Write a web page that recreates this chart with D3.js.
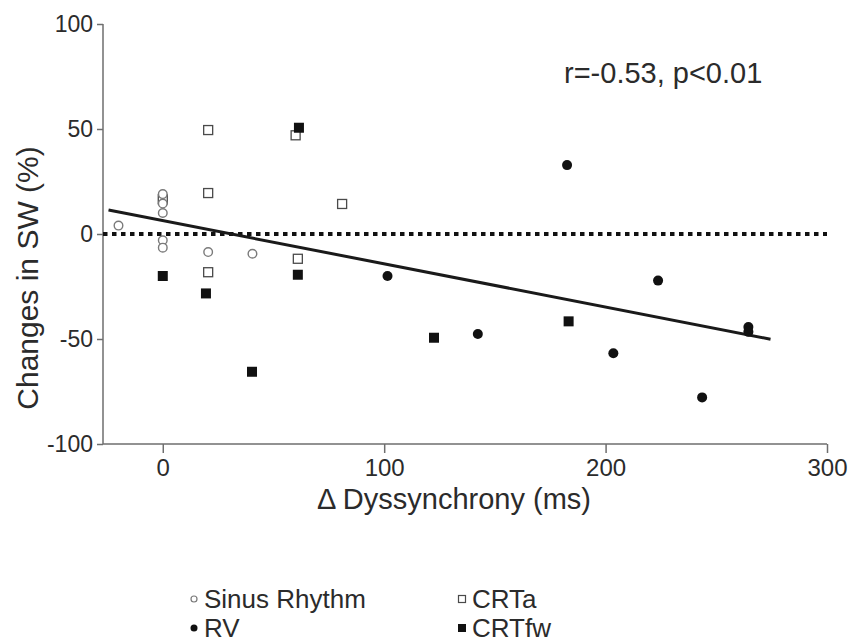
<!DOCTYPE html>
<html>
<head>
<meta charset="utf-8">
<script src="https://cdn.jsdelivr.net/npm/d3@7"></script>
<style>
  html, body { margin: 0; padding: 0; background: #fff; }
  svg { display: block; font-family: "Liberation Sans", Arial, sans-serif; }
</style>
</head>
<body>
<svg id="chart" width="851" height="642"></svg>
<script>
// ---- data ----
const xTicks = [0, 100, 200, 300];
const yTicks = [-100, -50, 0, 50, 100];

const sinusX = [-20, 0, 0, 0, 0, 0, 20.5, 40.5];
const sinusY = [4, 19, 14.5, 10, -3, -6.5, -8.6, -9.4];

const crtaX = [0, 20.5, 20.5, 20.5, 60, 61, 81];
const crtaY = [16.5, 49.5, 19.5, -18.2, 47, -11.8, 14.3];

const rvX = [101.5, 142.3, 182.6, 203.5, 223.7, 243.6, 264.5, 264.5];
const rvY = [-20, -47.6, 32.8, -56.8, -22.2, -77.8, -44.3, -46.6];

const crtfwX = [0, 19.5, 40.3, 61, 61.5, 122.5, 183.3];
const crtfwY = [-20, -28.3, -65.6, -19.4, 50.6, -49.4, -41.6];

const fitX = [-24.5, 274.5];
const fitY = [11.4, -50.1];

const annotation = "r=-0.53, p<0.01";
const xLabel = "\u0394 Dyssynchrony (ms)";
const yLabel = "Changes in SW (%)";
const legendNames = ["Sinus Rhythm", "CRTa", "RV", "CRTfw"];

// ---- drawing ----
const svg = d3.select("#chart");
const x = d3.scaleLinear().domain([-27, 300]).range([103, 827]);
const y = d3.scaleLinear().domain([-100, 100]).range([444, 24]);

const axisColor = "#6e6e6e";
const textColor = "#2b2b2b";
const fmt = d => String(d);

// y axis
const yAxis = svg.append("g").attr("transform", `translate(${x(-27)},0)`)
  .call(d3.axisLeft(y).tickValues(yTicks).tickSize(6).tickPadding(4).tickFormat(fmt));
yAxis.select(".domain").attr("stroke", axisColor).attr("stroke-width", 1.5).attr("d", `M0,${y(100)}V${y(-100)}`);
yAxis.selectAll(".tick line").attr("stroke", axisColor).attr("stroke-width", 1.5);
yAxis.selectAll(".tick text").attr("fill", textColor).attr("font-size", 23)
  .attr("font-family", "Liberation Sans, Arial, sans-serif");

// x axis
const xAxis = svg.append("g").attr("transform", `translate(0,${y(-100)})`)
  .call(d3.axisBottom(x).tickValues(xTicks).tickSize(9).tickPadding(6).tickFormat(fmt));
xAxis.select(".domain").attr("stroke", axisColor).attr("stroke-width", 1.5).attr("d", `M${x(-27)},0H${x(300)}`);
xAxis.selectAll(".tick line").attr("stroke", axisColor).attr("stroke-width", 1.5);
xAxis.selectAll(".tick text").attr("fill", textColor).attr("font-size", 24)
  .attr("font-family", "Liberation Sans, Arial, sans-serif");

// zero dotted line
svg.append("line")
  .attr("x1", x(-27)).attr("x2", x(300))
  .attr("y1", y(0)).attr("y2", y(0))
  .attr("stroke", "#111").attr("stroke-width", 4)
  .attr("stroke-dasharray", "4.5,4.5");

// regression line
svg.append("line")
  .attr("x1", x(fitX[0])).attr("y1", y(fitY[0]))
  .attr("x2", x(fitX[1])).attr("y2", y(fitY[1]))
  .attr("stroke", "#1a1a1a").attr("stroke-width", 3);

// markers
function pts(xs, ys) { return xs.map((v, i) => ({ x: v, y: ys[i] })); }

svg.append("g").selectAll("rect").data(pts(crtaX, crtaY)).join("rect")
  .attr("x", d => x(d.x) - 4.5).attr("y", d => y(d.y) - 4.5)
  .attr("width", 9).attr("height", 9)
  .attr("fill", "#fff").attr("stroke", "#4a4a4a").attr("stroke-width", 1.3);

svg.append("g").selectAll("circle").data(pts(sinusX, sinusY)).join("circle")
  .attr("cx", d => x(d.x)).attr("cy", d => y(d.y)).attr("r", 4.3)
  .attr("fill", "#fff").attr("stroke", "#7a7a7a").attr("stroke-width", 1.4);

svg.append("g").selectAll("rect").data(pts(crtfwX, crtfwY)).join("rect")
  .attr("x", d => x(d.x) - 5).attr("y", d => y(d.y) - 5)
  .attr("width", 10).attr("height", 10)
  .attr("fill", "#111");

svg.append("g").selectAll("circle").data(pts(rvX, rvY)).join("circle")
  .attr("cx", d => x(d.x)).attr("cy", d => y(d.y)).attr("r", 5)
  .attr("fill", "#111");

// annotation
svg.append("text").attr("x", 564).attr("y", 83)
  .attr("font-size", 29).attr("fill", textColor).text(annotation);

// axis labels
svg.append("text").attr("x", 454).attr("y", 509).attr("text-anchor", "middle")
  .attr("font-size", 29).attr("fill", textColor).text(xLabel);
svg.append("text").attr("transform", "translate(38,278) rotate(-90)")
  .attr("text-anchor", "middle")
  .attr("font-size", 30).attr("fill", textColor).text(yLabel);

// legend
const legend = svg.append("g").attr("font-size", 26).attr("fill", textColor);
const lx = [194, 462], ly = [599, 628];
legend.append("circle").attr("cx", lx[0]).attr("cy", ly[0]).attr("r", 3)
  .attr("fill", "#fff").attr("stroke", "#7a7a7a").attr("stroke-width", 1.2);
legend.append("circle").attr("cx", lx[0]).attr("cy", ly[1]).attr("r", 3.5).attr("fill", "#111");
legend.append("rect").attr("x", lx[1] - 3.5).attr("y", ly[0] - 3.5).attr("width", 7).attr("height", 7)
  .attr("fill", "#fff").attr("stroke", "#4a4a4a").attr("stroke-width", 1.2);
legend.append("rect").attr("x", lx[1] - 4).attr("y", ly[1] - 4).attr("width", 8).attr("height", 8).attr("fill", "#111");
legendNames.forEach((name, i) => {
  const col = i % 2, row = Math.floor(i / 2);
  legend.append("text").attr("x", lx[col] + 10).attr("y", ly[row] + 9).text(name);
});
</script>
</body>
</html>
